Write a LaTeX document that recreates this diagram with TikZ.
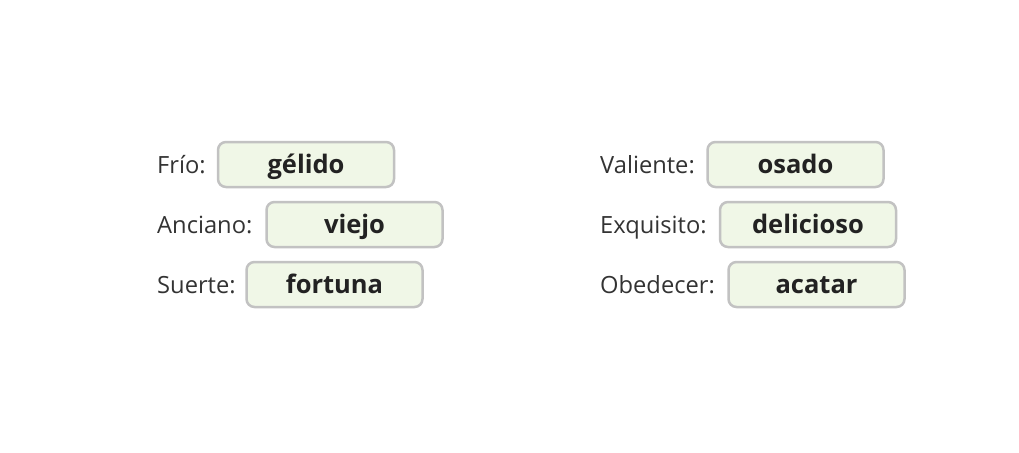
\documentclass[tikz,border=0pt]{standalone}
\usepackage{fontspec}
\setmainfont{Open Sans}
\definecolor{lbl}{HTML}{333333}
\definecolor{ans}{HTML}{222222}
\definecolor{boxfill}{HTML}{F0F7E7}
\definecolor{boxline}{HTML}{C2C2C2}
\begin{document}
\begin{tikzpicture}[x=1pt,y=-1pt,
  lab/.style={anchor=base west,inner sep=0pt,text=lbl,font=\fontsize{23.7}{28}\selectfont},
  ansbox/.style={draw=boxline,line width=2.5pt,fill=boxfill,rounded corners=8pt,
    minimum width=176pt,minimum height=45pt,inner sep=0pt,
    text height=21pt,text depth=3pt,text=ans,font=\fontsize{25.5}{30}\selectfont\bfseries}]
\useasboundingbox (0,0) rectangle (1019,452);
\node[lab] (l1) at (157,173.5) {Frío:};
\node[lab] (l2) at (157,233.5) {Anciano:};
\node[lab] (l3) at (157,293.5) {Suerte:};
\node[ansbox] (b1) at (306,164.5) {gélido};
\node[ansbox] (b2) at (354.5,224.5) {viejo};
\node[ansbox] (b3) at (334.5,284.5) {fortuna};
\node[lab] (l4) at (600,173.5) {Valiente:};
\node[lab] (l5) at (600,233.5) {Exquisito:};
\node[lab] (l6) at (600,293.5) {Obedecer:};
\node[ansbox] (b4) at (795.5,164.5) {osado};
\node[ansbox] (b5) at (808,224.5) {delicioso};
\node[ansbox] (b6) at (816.5,284.5) {acatar};
\end{tikzpicture}
\end{document}
